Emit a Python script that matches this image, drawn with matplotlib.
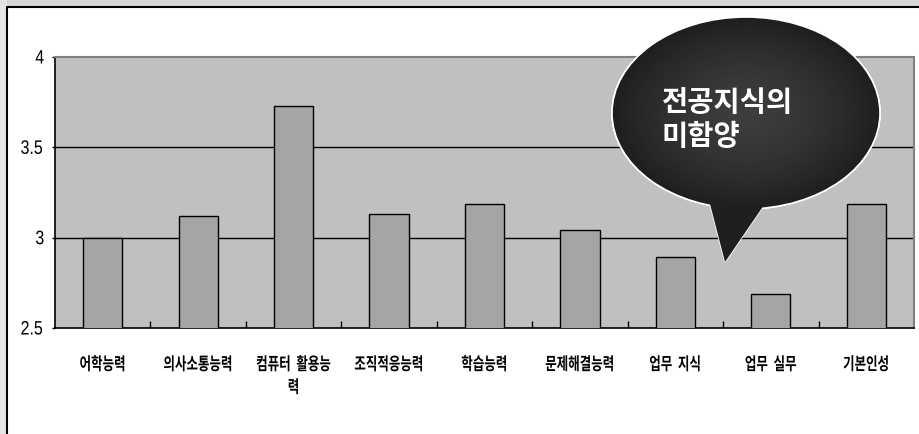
"""
Competency bar chart with a speech bubble callout (Korean labels).
"""
import matplotlib
matplotlib.use('Agg')
import matplotlib.pyplot as plt
from matplotlib.patches import Ellipse, Polygon, Rectangle
from matplotlib.patheffects import AbstractPathEffect
from matplotlib.transforms import Affine2D
import numpy as np

# Data
categories = ['어학능력', '의사소통능력', '컴퓨터  활용능\n력', '조직적응능력', '학습능력',
              '문제해결능력', '업무  지식', '업무  실무', '기본인성']
scores = [3.00, 3.12, 3.73, 3.13, 3.185, 3.04, 2.895, 2.69, 3.185]
y_ticks = [2.5, 3.0, 3.5, 4.0]
y_tick_labels = ['2.5', '3', '3.5', '4']
callout = '전공지식의\n미함양'


class Squeeze(AbstractPathEffect):
    """Narrow the text horizontally around its own centre (condensed look)."""
    def __init__(self, sx):
        super().__init__()
        self.sx = sx

    def draw_path(self, renderer, gc, tpath, affine, rgbFace=None):
        ext = tpath.get_extents(affine)
        cx = (ext.x0 + ext.x1) / 2
        t = affine + Affine2D().translate(-cx, 0).scale(self.sx, 1).translate(cx, 0)
        renderer.draw_path(gc, tpath, t, rgbFace)


W, H = 919, 434
fig = plt.figure(figsize=(W / 100, H / 100), dpi=100, facecolor='white')

# background frame (pixel coordinates)
bg = fig.add_axes([0, 0, 1, 1], zorder=0)
bg.set_xlim(0, W)
bg.set_ylim(H, 0)
bg.axis('off')
bg.add_patch(Rectangle((0, 0), W, 7, color='#d6d6d6', lw=0))
bg.add_patch(Rectangle((0, 0), 7, H, color='#e4e4e4', lw=0))
bg.plot([7, 7, W], [H, 7, 7], color='black', lw=1.5)

# main chart
ax = fig.add_axes([55 / W, 1 - 328 / H, (914 - 55) / W, (328 - 57) / H], zorder=1)
ax.set_facecolor('#c0c0c0')
x = np.arange(len(categories))
ax.bar(x, scores, width=0.41, color='#a5a5a5', edgecolor='black', linewidth=1, zorder=3)
ax.set_xlim(-0.5, len(categories) - 0.5)
ax.set_ylim(2.5, 4.0)
for v in [3.0, 3.5]:
    ax.axhline(v, color='black', lw=1, zorder=1)

ax.set_yticks(y_ticks)
ylabels = ax.set_yticklabels(y_tick_labels, family='Liberation Sans', fontsize=14)
for t in ylabels:
    t.set_path_effects([Squeeze(0.82)])
ax.tick_params(axis='y', direction='out', length=2, width=1, pad=5)

ax.set_xticks(x)
xlabels = ax.set_xticklabels(categories, family=['Noto Sans CJK KR'], fontweight='heavy',
                             fontsize=12.5, linespacing=1.35)
for t in xlabels:
    t.set_path_effects([Squeeze(0.72)])
ax.tick_params(axis='x', which='major', length=0, pad=20)
ax.set_xticks(x[:-1] + 0.5, minor=True)
ax.tick_params(axis='x', which='minor', direction='in', length=5, width=1, color='black')

for s in ['left', 'bottom']:
    ax.spines[s].set_color('black')
    ax.spines[s].set_linewidth(1.2)
for s in ['top', 'right']:
    ax.spines[s].set_color('#808080')
    ax.spines[s].set_linewidth(1.5)

# speech bubble
ov = fig.add_axes([0, 0, 1, 1], zorder=5)
ov.set_xlim(0, W)
ov.set_ylim(H, 0)
ov.axis('off')
tail_pts = [(709, 200), (725, 262), (764, 205)]
ov.add_patch(Polygon(tail_pts, closed=True, facecolor='#1f1f1f', edgecolor='white', lw=1.2, zorder=1))
ell = Ellipse((746, 113), 268, 192, facecolor='#1f1f1f', edgecolor='white', lw=1.2, zorder=2)
ov.add_patch(ell)
# radial shading inside the ellipse
gx, gy = np.meshgrid(np.linspace(-1, 1, 200), np.linspace(-1, 1, 200))
r = np.clip(np.sqrt(gx ** 2 + gy ** 2), 0, 1)
shade = 0.24 - 0.12 * r ** 1.6
img = ov.imshow(shade, cmap='gray', vmin=0, vmax=1, extent=(612, 880, 209, 17),
                zorder=3, interpolation='bilinear')
img.set_clip_path(ell)
ov.add_patch(Polygon(tail_pts, closed=True, facecolor='#1f1f1f', edgecolor='none', zorder=3.5))
ov.add_patch(Ellipse((746, 113), 268, 192, facecolor='none', edgecolor='white', lw=1.2, zorder=3.2))
ov.text(662, 120, callout, color='white', fontsize=20.5, fontweight='bold',
        family=['Noto Sans CJK KR'], ha='left', va='center', linespacing=1.3, zorder=6)
ov.set_xlim(0, W)
ov.set_ylim(H, 0)

fig.savefig('out.png', dpi=100)
